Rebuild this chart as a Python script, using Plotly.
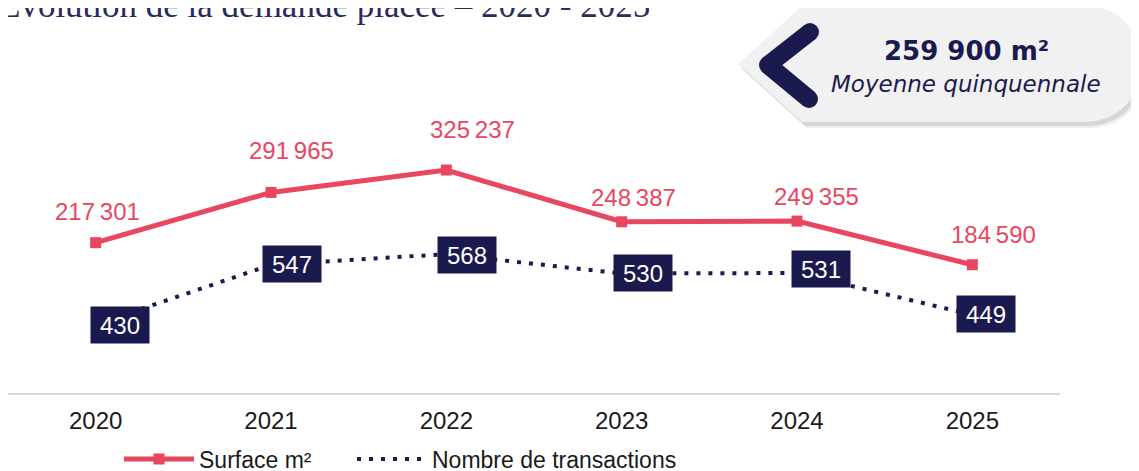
import plotly.graph_objects as go

# ---------------- data ----------------
years = ["2020", "2021", "2022", "2023", "2024", "2025"]
surface = [217301, 291965, 325237, 248387, 249355, 184590]
transactions = [430, 547, 568, 530, 531, 449]
series_names = ["Surface m²", "Nombre de transactions"]
callout_value = "259 900 m²"
callout_label = "Moyenne quinquennale"
title_text = "Évolution de la demande placée – 2020 - 2025"

# ---------------- style ----------------
RED = "#E9465F"
NAVY = "#1B1A4E"
FONT = "Liberation Sans"
W, H = 1139, 471
OFF = 8  # page body margin
L, R, T, B = 0, 87, 32, 86
PW, PH = W - L - R, H - T - B


def px(x):
    """screen x (px) -> paper"""
    return (x - OFF - L) / PW


def py(y):
    """screen y (px) -> paper"""
    return (H - B - (y - OFF)) / PH


def fmt(v):
    return f"{v:,}".replace(",", "\u2009")


fig = go.Figure()
fig.add_trace(go.Scatter(
    x=years, y=surface, name=series_names[0], mode="lines+markers",
    line=dict(color=RED, width=5),
    marker=dict(symbol="square", size=11, color=RED),
    yaxis="y", hoverinfo="skip", legend="legend"))
fig.add_trace(go.Scatter(
    x=years, y=transactions, name=series_names[1], mode="lines",
    line=dict(color=NAVY, width=4, dash="4px,8px"),
    yaxis="y2", hoverinfo="skip", legend="legend2"))

ann = []
# surface labels (offsets in px: right, up)
s_dx = [2, 20, 26, 12, 19, 21]
s_dy = [31, 42, 41, 24, 25, 30]
for i, (c, v) in enumerate(zip(years, surface)):
    ann.append(dict(x=i, y=v, xref="x", yref="y", text=fmt(v), showarrow=False,
                    xanchor="center", yanchor="middle",
                    xshift=s_dx[i], yshift=s_dy[i],
                    font=dict(family=FONT, size=24, color=RED)))
# transaction boxes
b_dx = [24, 21, 21, 21, 24, 14]
b_dy = [0, 1, -1, 1, 4, 1]
for i, (c, v) in enumerate(zip(years, transactions)):
    ann.append(dict(x=i, y=v, xref="x", yref="y2", text=str(v), showarrow=False,
                    xanchor="center", yanchor="middle",
                    xshift=b_dx[i], yshift=b_dy[i],
                    bgcolor=NAVY, width=52, height=30, borderpad=3,
                    font=dict(family=FONT, size=24, color="white")))

# title (clipped at top)
ann.append(dict(x=px(-3), y=py(27), xref="paper", yref="paper", xanchor="left",
                yanchor="bottom", text=title_text, showarrow=False,
                font=dict(family="Liberation Serif", size=35, color="#2B2A5C")))
# callout texts
ann.append(dict(x=px(966), y=py(51), xref="paper", yref="paper", text=f"<b>{callout_value}</b>",
                xanchor="center", yanchor="middle",
                showarrow=False, font=dict(family="DejaVu Sans", size=26, color=NAVY)))
ann.append(dict(x=px(966), y=py(84), xref="paper", yref="paper", text=f"<i>{callout_label}</i>",
                xanchor="center", yanchor="middle",
                showarrow=False, font=dict(family="DejaVu Sans", size=23, color=NAVY)))


def callout_path(dx=0, dy=0):
    pts = lambda x, y: f"{px(x + dx)},{py(y + dy)}"
    return (f"M {pts(802, 6)} L {pts(1085, 6)} "
            f"C {pts(1120, 6)} {pts(1142, 34)} {pts(1142, 64)} "
            f"C {pts(1142, 94)} {pts(1120, 122)} {pts(1085, 122)} "
            f"L {pts(802, 122)} L {pts(738, 64)} Z")


shapes = [
    dict(type="path", xref="paper", yref="paper", path=callout_path(5, 6),
         fillcolor="rgba(0,0,0,0.06)", line=dict(width=0), layer="above"),
    dict(type="path", xref="paper", yref="paper", path=callout_path(3, 4),
         fillcolor="rgba(0,0,0,0.10)", line=dict(width=0), layer="above"),
    dict(type="path", xref="paper", yref="paper", path=callout_path(),
         fillcolor="#F1F1F1", line=dict(width=0), layer="above"),
]
chev = [(810, 32), (768, 65), (809, 99)]
for (x0, y0), (x1, y1) in zip(chev[:-1], chev[1:]):
    shapes.append(dict(type="line", xref="paper", yref="paper", x0=px(x0), y0=py(y0),
                       x1=px(x1), y1=py(y1), line=dict(color=NAVY, width=18), layer="above"))
for (x, y) in chev:
    r = 9
    shapes.append(dict(type="circle", xref="paper", yref="paper", x0=px(x - r), x1=px(x + r),
                       y0=py(y + r), y1=py(y - r), fillcolor=NAVY, line=dict(width=0), layer="above"))

legend_common = dict(orientation="h", yanchor="middle", xanchor="left",
                     font=dict(family=FONT, size=23, color="#1A1A1A"), itemwidth=70,
                     bgcolor="rgba(0,0,0,0)")

fig.update_layout(
    width=W, height=H,
    margin=dict(l=L, r=R, t=T, b=B, autoexpand=False),
    paper_bgcolor="white", plot_bgcolor="white",
    showlegend=True,
    legend=dict(x=px(119), y=py(459), **legend_common),
    legend2=dict(x=px(352), y=py(459), **legend_common),
    xaxis=dict(type="category", range=[-0.5, 5.5], showgrid=False, zeroline=False, showline=True,
               linecolor="#D9D9D9", linewidth=2, ticks="", ticklabelstandoff=5,
               tickfont=dict(family=FONT, size=24, color="#1A1A1A"), fixedrange=True),
    yaxis=dict(range=[-5895, 518311], showticklabels=False, showline=False,
               showgrid=False, zeroline=False),
    yaxis2=dict(range=[295.7, 987.8], showticklabels=False, showline=False,
                showgrid=False, zeroline=False, overlaying="y", side="right"),
    annotations=ann, shapes=shapes,
)

fig.write_html("out.html")
